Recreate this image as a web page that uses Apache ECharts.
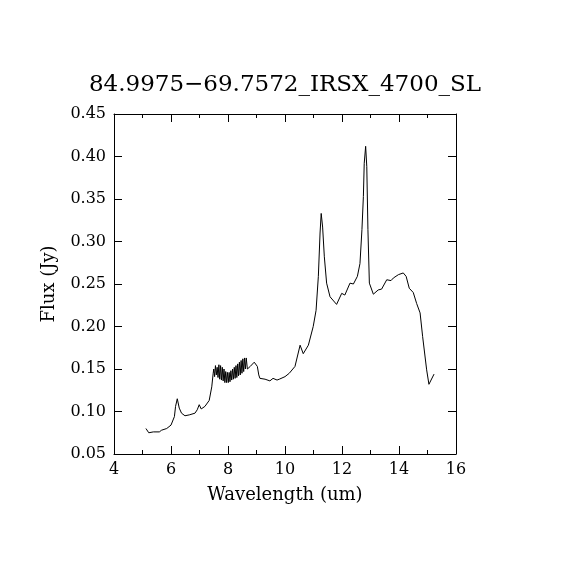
<!DOCTYPE html>
<html>
<head>
<meta charset="utf-8">
<script src="https://cdn.jsdelivr.net/npm/echarts@6/dist/echarts.min.js"></script>
<style>html,body{margin:0;padding:0;background:#fff}#c{width:570px;height:570px}</style>
</head>
<body>
<div id="c"></div>
<script>
const titleText = "84.9975\u221269.7572_IRSX_4700_SL";
const xTicks = [4, 6, 8, 10, 12, 14, 16];
const yTicks = [0.05, 0.10, 0.15, 0.20, 0.25, 0.30, 0.35, 0.40, 0.45];

const wavelength = [
  5.12, 5.22, 5.38, 5.59, 5.67, 5.85, 6.00, 6.12, 6.16, 6.22, 6.29, 6.37, 6.49, 6.64, 6.84, 6.92, 6.99, 7.06, 7.19, 7.34, 7.43, 7.48,
  7.50, 7.53, 7.56, 7.59, 7.62, 7.65, 7.68, 7.71, 7.74, 7.77, 7.80, 7.83, 7.86, 7.89, 7.92, 7.95, 7.98, 8.01, 8.04, 8.07,
  8.10, 8.13, 8.16, 8.19, 8.22, 8.25, 8.28, 8.31, 8.34, 8.37, 8.40, 8.43, 8.46, 8.49, 8.52, 8.55, 8.58, 8.61, 8.64, 8.68,
  8.72, 8.78, 8.85, 8.92, 8.98, 9.03, 9.08, 9.12, 9.30, 9.47, 9.58, 9.65, 9.72, 9.80, 10.00, 10.15, 10.35,
  10.53, 10.64, 10.82, 10.99, 11.09, 11.17, 11.23, 11.27, 11.32, 11.38, 11.46, 11.58, 11.81, 11.99, 12.10, 12.28, 12.40,
  12.54, 12.63, 12.70, 12.75, 12.78, 12.83, 12.87, 12.91, 12.96, 13.10, 13.27, 13.39, 13.57, 13.72, 13.80, 13.98, 14.15,
  14.25, 14.36, 14.50, 14.62, 14.74, 14.83, 14.97, 15.05, 15.23
];
const flux = [
  0.080, 0.075, 0.076, 0.076, 0.078, 0.080, 0.084, 0.094, 0.106, 0.115, 0.104, 0.098, 0.095, 0.096, 0.098, 0.102, 0.108, 0.103, 0.106, 0.113, 0.129, 0.145,
  0.150, 0.141, 0.154, 0.143, 0.152, 0.140, 0.155, 0.138, 0.154, 0.137, 0.152, 0.136, 0.150, 0.134, 0.147, 0.134, 0.146, 0.134, 0.146, 0.135,
  0.148, 0.137, 0.150, 0.138, 0.152, 0.139, 0.154, 0.140, 0.156, 0.142, 0.158, 0.143, 0.160, 0.145, 0.162, 0.147, 0.163, 0.150, 0.163, 0.150,
  0.148, 0.153, 0.152, 0.158, 0.160, 0.153, 0.143, 0.139, 0.138, 0.136, 0.139, 0.140, 0.137, 0.138, 0.141, 0.145, 0.153,
  0.178, 0.168, 0.178, 0.200, 0.219, 0.259, 0.310, 0.333, 0.317, 0.282, 0.251, 0.235, 0.226, 0.239, 0.237, 0.251, 0.250,
  0.259, 0.274, 0.314, 0.353, 0.392, 0.412, 0.388, 0.314, 0.251, 0.238, 0.243, 0.244, 0.255, 0.254, 0.257, 0.261, 0.263,
  0.259, 0.245, 0.240, 0.227, 0.216, 0.188, 0.149, 0.132, 0.144
];

const points = wavelength.map((w, i) => [w, flux[i]]);
const font = "DejaVu Serif";

function xAxisDef(pos, labels) {
  return {
    type: 'value', position: pos,
    min: xTicks[0], max: xTicks[xTicks.length - 1], interval: xTicks[1] - xTicks[0],
    axisLine: { show: true, onZero: false, lineStyle: { color: '#000', width: 1 } },
    axisTick: { show: true, inside: true, length: 8, lineStyle: { color: '#000' } },
    minorTick: { show: true, splitNumber: 2, length: 4, lineStyle: { color: '#000' } },
    splitLine: { show: false },
    axisLabel: { show: labels, color: '#000', fontFamily: font, fontSize: 16, margin: 8 },
    name: labels ? 'Wavelength (um)' : '',
    nameLocation: 'middle', nameGap: 32,
    nameTextStyle: { color: '#000', fontFamily: font, fontSize: 18 }
  };
}
function yAxisDef(pos, labels) {
  return {
    type: 'value', position: pos,
    min: yTicks[0], max: yTicks[yTicks.length - 1], interval: 0.05,
    axisLine: { show: true, onZero: false, lineStyle: { color: '#000', width: 1 } },
    axisTick: { show: true, inside: true, length: 8, lineStyle: { color: '#000' } },
    splitLine: { show: false },
    axisLabel: { show: labels, color: '#000', fontFamily: font, fontSize: 16, margin: 8,
      formatter: v => v.toFixed(2) },
    name: labels ? 'Flux (Jy)' : '',
    nameLocation: 'middle', nameGap: 56, nameRotate: 90,
    nameTextStyle: { color: '#000', fontFamily: font, fontSize: 18 }
  };
}

const chart = echarts.init(document.getElementById('c'), null, { renderer: 'canvas' });
chart.setOption({
  backgroundColor: '#fff',
  animation: false,
  title: {
    text: titleText, left: 'center', top: 69,
    textStyle: { color: '#000', fontFamily: font, fontSize: 23, fontWeight: 'normal' }
  },
  grid: { left: 114, right: 114, top: 114, bottom: 116, containLabel: false },
  xAxis: [xAxisDef('bottom', true), xAxisDef('top', false)],
  yAxis: [yAxisDef('left', true), yAxisDef('right', false)],
  series: [{
    type: 'line', data: points, xAxisIndex: 0, yAxisIndex: 0,
    showSymbol: false, symbol: 'none',
    lineStyle: { color: '#000', width: 1 }
  }]
});
</script>
</body>
</html>
